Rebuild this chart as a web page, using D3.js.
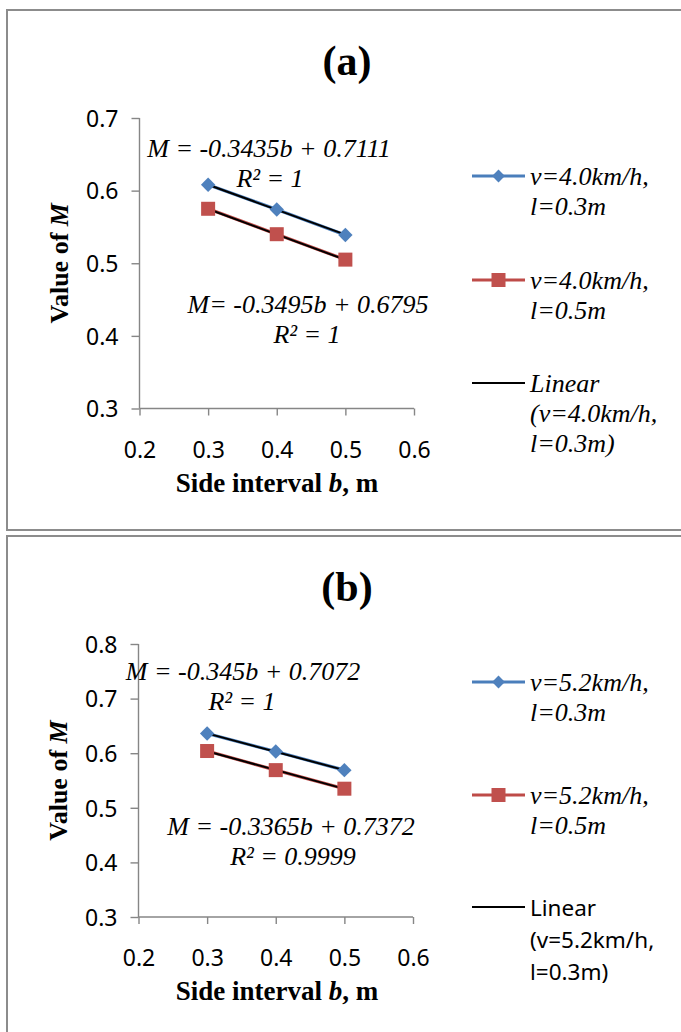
<!DOCTYPE html>
<html>
<head>
<meta charset="utf-8">
<script src="https://cdn.jsdelivr.net/npm/d3@7"></script>
<style>
  body { margin: 0; background: #fff; }
  svg { display: block; }
</style>
</head>
<body>
<svg id="fig" width="681" height="1032"></svg>
<script>
// ---- data -------------------------------------------------------------
const sideIntervals = [0.3, 0.4, 0.5];          // b, m
const xTickValues = [0.2, 0.3, 0.4, 0.5, 0.6];
const yTickValuesA = [0.3, 0.4, 0.5, 0.6, 0.7];
const yTickValuesB = [0.3, 0.4, 0.5, 0.6, 0.7, 0.8];

// measured M values
const mA_l03 = [0.608, 0.574, 0.539];   // v=4.0km/h, l=0.3m
const mA_l05 = [0.575, 0.540, 0.505];   // v=4.0km/h, l=0.5m
const mB_l03 = [0.636, 0.603, 0.569];   // v=5.2km/h, l=0.3m
const mB_l05 = [0.604, 0.569, 0.535];   // v=5.2km/h, l=0.5m

// linear trend coefficients: [slope, intercept, R²]
const fitA_l03 = [-0.3435, 0.7111, "1"];
const fitA_l05 = [-0.3495, 0.6795, "1"];
const fitB_l03 = [-0.3365, 0.7372, "0.9999"];
const fitB_l05 = [-0.345, 0.7072, "1"];

const legendA = ["v=4.0km/h,|l=0.3m", "v=4.0km/h,|l=0.5m", "Linear|(v=4.0km/h,|l=0.3m)"];
const legendB = ["v=5.2km/h,|l=0.3m", "v=5.2km/h,|l=0.5m", "Linear|(v=5.2km/h,|l=0.3m)"];

// ---- styles -----------------------------------------------------------
const BLUE = "#4a7ebb", BLUE_MK = "#4f81bd";
const RED = "#be4b48", RED_MK = "#c0504d";
const AXIS = "#868686";
const SERIF = "'Liberation Serif', 'Times New Roman', serif";
const SANS = "'Noto Sans', 'Open Sans', sans-serif";

const svg = d3.select("#fig");
svg.append("rect").attr("width", 681).attr("height", 1032).attr("fill", "#fff");

function diamond(g, x, y, r, fill) {
  g.append("path")
    .attr("d", d3.symbol(d3.symbolSquare, 2 * r * r)())
    .attr("transform", `translate(${x},${y}) rotate(45)`)
    .attr("fill", fill);
}
function square(g, x, y, s, fill) {
  g.append("rect").attr("x", x - s / 2).attr("y", y - s / 2)
    .attr("width", s).attr("height", s).attr("fill", fill);
}

function drawPanel(p) {
  const g = svg.append("g");

  // frame
  g.append("rect")
    .attr("x", 7).attr("y", p.frameTop)
    .attr("width", 700).attr("height", p.frameH)
    .attr("fill", "none").attr("stroke", "#8c8c8c").attr("stroke-width", 2);

  // title
  g.append("text").attr("x", 347).attr("y", p.titleY)
    .attr("text-anchor", "middle")
    .style("font-family", SERIF).style("font-weight", "bold").style("font-size", "42px")
    .text(p.title);

  const x = d3.scaleLinear().domain([0.2, 0.6]).range([p.x0, p.x1]);
  const y = d3.scaleLinear().domain(p.yDomain).range([p.yBottom, p.yTop]);

  // axes
  const yAxis = g.append("g").attr("transform", `translate(${p.x0},0)`)
    .call(d3.axisLeft(y).tickValues(p.yTicks).tickFormat(d3.format(".1f"))
      .tickSize(8).tickPadding(13));
  const xAxis = g.append("g").attr("transform", `translate(0,${p.yBottom})`)
    .call(d3.axisBottom(x).tickValues(xTickValues).tickFormat(d3.format(".1f"))
      .tickSize(7).tickPadding(26));
  [yAxis, xAxis].forEach(a => {
    a.select(".domain").attr("stroke", AXIS).attr("stroke-width", 1.4);
    a.selectAll(".tick line").attr("stroke", AXIS).attr("stroke-width", 1.4);
    a.selectAll(".tick text").attr("fill", "#000")
      .style("font-family", SANS).style("font-size", "23px");
  });
  yAxis.select(".domain").attr("d", `M0,${p.yBottom}V${p.yTop}`);
  yAxis.selectAll(".tick text").attr("dy", "0.36em");
  xAxis.select(".domain").attr("d", `M${p.x0},0H${p.x1}`);
  xAxis.selectAll(".tick text").attr("dy", "0.7em");

  // axis titles
  const yt = g.append("text")
    .attr("transform", `translate(${p.yTitleX},${(p.yTop + p.yBottom) / 2}) rotate(-90)`)
    .attr("text-anchor", "middle")
    .style("font-family", SERIF).style("font-weight", "bold").style("font-size", "26px");
  yt.append("tspan").text("Value of ");
  yt.append("tspan").style("font-style", "italic").text("M");

  const xt = g.append("text")
    .attr("x", 277).attr("y", p.yBottom + 83)
    .attr("text-anchor", "middle")
    .style("font-family", SERIF).style("font-weight", "bold").style("font-size", "27px");
  xt.append("tspan").text("Side interval ");
  xt.append("tspan").style("font-style", "italic").text("b");
  xt.append("tspan").text(", m");

  // series lines
  const line = d3.line().x((d, i) => x(sideIntervals[i])).y(d => y(d));
  g.append("path").datum(p.s1).attr("d", line)
    .attr("fill", "none").attr("stroke", BLUE).attr("stroke-width", 3.2);
  g.append("path").datum(p.s2).attr("d", line)
    .attr("fill", "none").attr("stroke", RED).attr("stroke-width", 3.2);

  // trend lines
  [p.f1, p.f2].forEach(f => {
    const xs = [sideIntervals[0], sideIntervals[sideIntervals.length - 1]];
    g.append("line")
      .attr("x1", x(xs[0])).attr("y1", y(f[0] * xs[0] + f[1]))
      .attr("x2", x(xs[1])).attr("y2", y(f[0] * xs[1] + f[1]))
      .attr("stroke", "#000").attr("stroke-width", 2);
  });

  // markers
  p.s1.forEach((d, i) => diamond(g, x(sideIntervals[i]), y(d), 7.2, BLUE_MK));
  p.s2.forEach((d, i) => square(g, x(sideIntervals[i]), y(d), 14, RED_MK));

  // trend equations
  p.eqs.forEach(e => {
    const t = g.append("text").attr("text-anchor", "middle")
      .style("font-family", SERIF).style("font-style", "italic").style("font-size", "26px");
    t.append("tspan").attr("x", e.x).attr("y", e.y)
      .text(`${e.prefix} ${e.fit[0]}b + ${e.fit[1]}`);
    t.append("tspan").attr("x", e.x2).attr("y", e.y + 30)
      .text(`R² = ${e.fit[2]}`);
  });

  // legend
  const lx0 = 472, lx1 = 525, tx = 530;
  p.legend.forEach((lab, k) => {
    const ly = p.legendY[k];
    const col = k === 0 ? BLUE : k === 1 ? RED : "#000";
    g.append("line").attr("x1", lx0).attr("x2", lx1).attr("y1", ly).attr("y2", ly)
      .attr("stroke", col).attr("stroke-width", k === 2 ? 2 : 3);
    if (k === 0) diamond(g, (lx0 + lx1) / 2, ly, 6.4, BLUE_MK);
    if (k === 1) square(g, (lx0 + lx1) / 2, ly, 14, RED_MK);
    const sansEntry = k === 2 && p.sansTrendLegend;
    const t = g.append("text")
      .style("font-family", sansEntry ? SANS : SERIF)
      .style("font-style", sansEntry ? "normal" : "italic")
      .style("font-size", sansEntry ? "22.5px" : "26px");
    const step = sansEntry ? 32 : 30;
    lab.split("|").forEach((s, j) => {
      t.append("tspan").attr("x", tx).attr("y", ly + 9 + j * step).text(s);
    });
  });
}

drawPanel({
  title: "(a)", frameTop: 10, frameH: 520, titleY: 75,
  x0: 139.5, x1: 414, yTop: 118, yBottom: 408.5, yDomain: [0.3, 0.7], yTicks: yTickValuesA,
  yTitleX: 68,
  s1: mA_l03, s2: mA_l05, f1: fitA_l03, f2: fitA_l05,
  eqs: [
    { fit: fitA_l03, prefix: "M =", x: 269, x2: 270, y: 157 },
    { fit: fitA_l05, prefix: "M=", x: 308, x2: 307, y: 313 }
  ],
  legend: legendA, legendY: [176, 280, 383], sansTrendLegend: false
});

drawPanel({
  title: "(b)", frameTop: 536, frameH: 520, titleY: 601,
  x0: 138.5, x1: 413, yTop: 644, yBottom: 917, yDomain: [0.3, 0.8], yTicks: yTickValuesB,
  yTitleX: 67,
  s1: mB_l03, s2: mB_l05, f1: fitB_l03, f2: fitB_l05,
  eqs: [
    { fit: fitB_l05, prefix: "M =", x: 243, x2: 242, y: 680 },
    { fit: fitB_l03, prefix: "M =", x: 291, x2: 293, y: 835 }
  ],
  legend: legendB, legendY: [682, 795, 907], sansTrendLegend: true
});
</script>
</body>
</html>
